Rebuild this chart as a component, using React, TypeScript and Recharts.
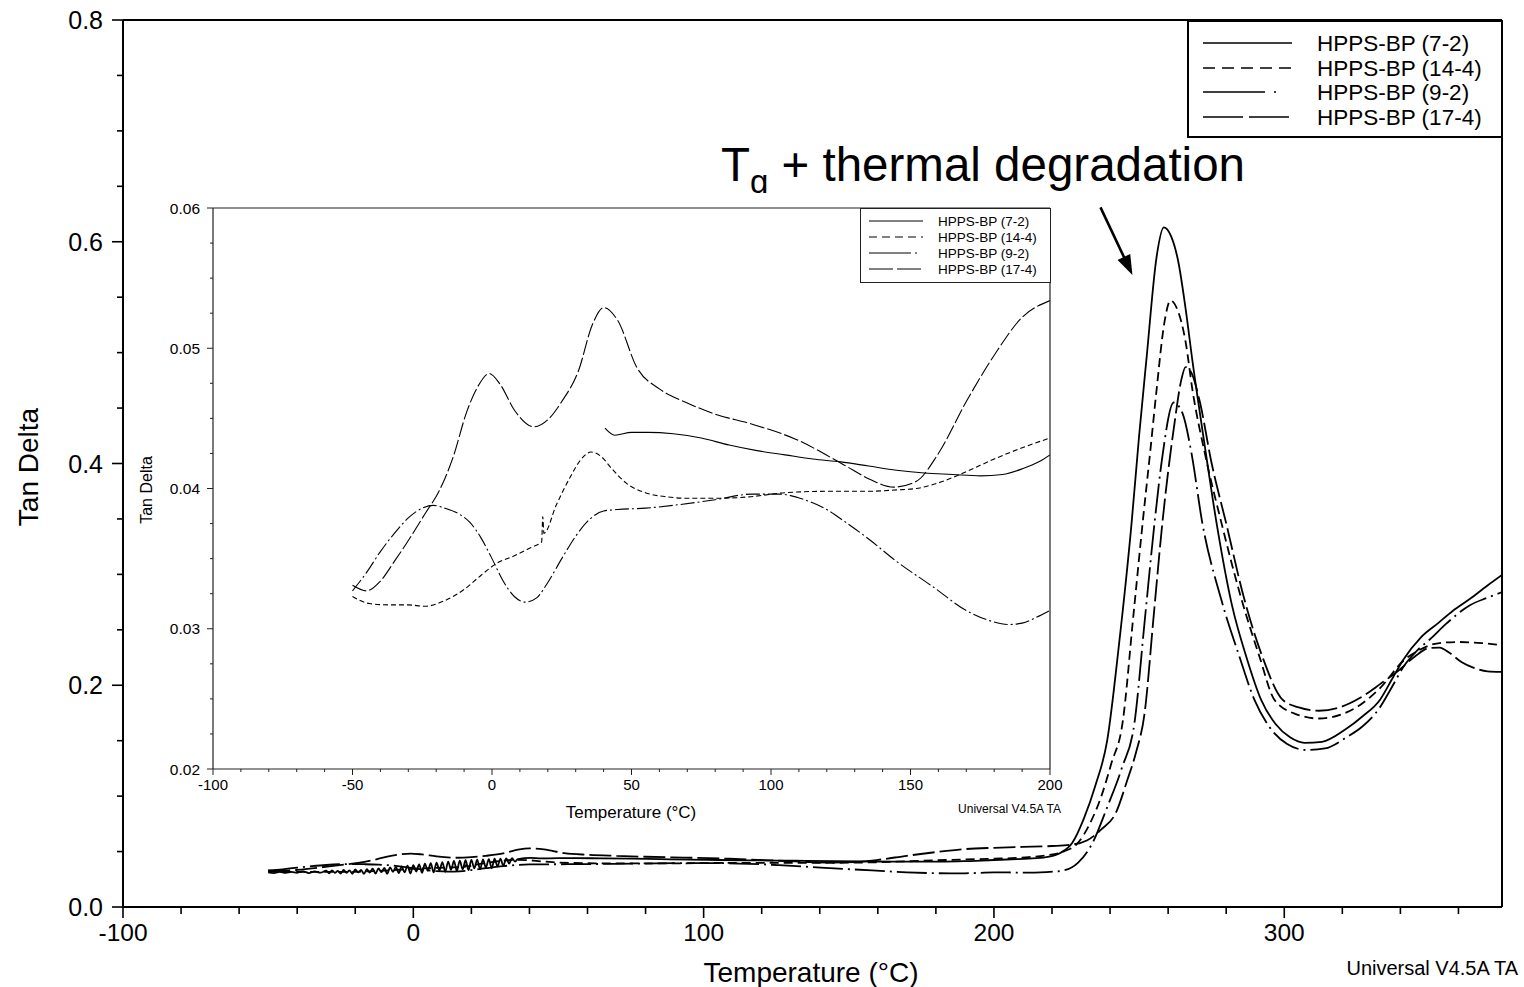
import React from 'react';
import { LineChart, Line, XAxis, YAxis, ReferenceLine } from 'recharts';

const FONT = '"Liberation Sans", Arial, Helvetica, sans-serif';

// ---------- series names ----------
const SERIES_NAMES = ['HPPS-BP (7-2)', 'HPPS-BP (14-4)', 'HPPS-BP (9-2)', 'HPPS-BP (17-4)'];

// ---------- tick labels / positions ----------
const MAIN_X_TICKS = [-100, -80, -60, -40, -20, 0, 20, 40, 60, 80, 100, 120, 140, 160, 180, 200, 220, 240, 260, 280, 300, 320, 340, 360];
const MAIN_Y_TICKS = [0, 0.05, 0.1, 0.15, 0.2, 0.25, 0.3, 0.35, 0.4, 0.45, 0.5, 0.55, 0.6, 0.65, 0.7, 0.75, 0.8];
const INSET_X_TICKS = [-100, -90, -80, -70, -60, -50, -40, -30, -20, -10, 0, 10, 20, 30, 40, 50, 60, 70, 80, 90, 100, 110, 120, 130, 140, 150, 160, 170, 180, 190, 200];
const INSET_Y_TICKS = [0.02, 0.0225, 0.025, 0.0275, 0.03, 0.0325, 0.035, 0.0375, 0.04, 0.0425, 0.045, 0.0475, 0.05, 0.0525, 0.055, 0.0575, 0.06];

// ---------- HPPS-BP (7-2) ----------
// noisy low-temperature section (only shown in the main plot)
const S72_LOW_T = [-50, -48, -46, -44, -42, -40, -38, -36, -34, -32, -30, -29, -28, -27, -26, -25, -24, -23, -22, -21, -20, -19, -18, -17, -16, -15, -14, -13, -12, -11, -10, -9, -8, -7, -6, -5, -4, -3, -2, -1, 0, 1, 2, 3, 4, 5, 6, 7, 8, 9, 10, 11, 12, 13, 14, 15, 16, 17, 18, 19, 20, 21, 22, 23, 24, 25, 26, 27, 28, 29, 30, 31, 32, 33, 34, 35, 36];
const S72_LOW_V = [0.0312, 0.0305, 0.0318, 0.0308, 0.0316, 0.0309, 0.0322, 0.0306, 0.0321, 0.031, 0.0327, 0.0304, 0.0331, 0.0308, 0.0326, 0.0302, 0.0335, 0.0309, 0.033, 0.03, 0.0338, 0.0312, 0.0334, 0.0298, 0.0342, 0.031, 0.0345, 0.0301, 0.0348, 0.0315, 0.0352, 0.03, 0.0358, 0.0318, 0.0362, 0.0305, 0.0366, 0.0312, 0.0372, 0.0302, 0.0378, 0.032, 0.0384, 0.0308, 0.039, 0.0325, 0.0395, 0.0312, 0.04, 0.033, 0.0405, 0.0318, 0.041, 0.0335, 0.0415, 0.0325, 0.0418, 0.034, 0.0422, 0.0332, 0.0425, 0.0348, 0.0428, 0.034, 0.043, 0.0355, 0.0432, 0.035, 0.0435, 0.0365, 0.0436, 0.0372, 0.0438, 0.0392, 0.044, 0.041, 0.0432];
const S72_T = [40.5, 44, 50, 56, 65, 75, 85, 95, 105, 115, 125, 135, 145, 155, 165, 175, 183, 190, 196, 200];
const S72_V = [0.0443, 0.0438, 0.044, 0.044, 0.0439, 0.0436, 0.0431, 0.0427, 0.0424, 0.0421, 0.0419, 0.0416, 0.0413, 0.0411, 0.041, 0.0409, 0.041, 0.0414, 0.0419, 0.0424];
const S72_HIGH_T = [206, 212, 218, 223, 227, 231, 235, 239, 243, 247.4, 250, 252.6, 256, 258.5, 261, 263.5, 266, 268.5, 272.5, 276.7, 282, 287, 292, 297, 302, 307, 313, 321, 327, 333, 337, 341, 347, 353, 358, 364, 370, 375];
const S72_HIGH_V = [0.043, 0.0436, 0.045, 0.049, 0.058, 0.08, 0.11, 0.15, 0.235, 0.346, 0.425, 0.496, 0.586, 0.613, 0.605, 0.582, 0.54, 0.49, 0.418, 0.346, 0.272, 0.225, 0.187, 0.165, 0.153, 0.148, 0.149, 0.16, 0.172, 0.187, 0.205, 0.223, 0.243, 0.256, 0.267, 0.278, 0.29, 0.2995];

// ---------- HPPS-BP (14-4) ----------
const S144_T = [-50, -44, -37, -30, -24, -17, -10, -4, 2, 8, 14, 17.8, 18.2, 18.6, 23, 28, 32, 35.5, 39, 43, 48, 55, 63, 70, 80, 92, 105, 120, 135, 145, 152, 160, 170, 180, 190, 200];
const S144_V = [0.0323, 0.0318, 0.0317, 0.0317, 0.0316, 0.032, 0.0328, 0.0338, 0.0347, 0.0352, 0.0358, 0.0362, 0.038, 0.0368, 0.0388, 0.0408, 0.0421, 0.0426, 0.0423, 0.0414, 0.0404, 0.0397, 0.0394, 0.0393, 0.0393, 0.0394, 0.0397, 0.0398, 0.0398, 0.0399, 0.04, 0.0404, 0.0412, 0.0421, 0.0429, 0.0436];
const S144_HIGH_T = [206, 212, 218, 224, 229, 233, 237, 240.5, 244.3, 248, 251.2, 254, 256, 258.7, 260.8, 263, 266, 268.4, 273, 278.4, 285, 291.5, 296.6, 304, 312, 320, 326, 333, 341.4, 346, 350, 355, 360, 368, 375];
const S144_HIGH_V = [0.044, 0.045, 0.0465, 0.05, 0.058, 0.075, 0.1, 0.13, 0.166, 0.262, 0.346, 0.415, 0.466, 0.527, 0.547, 0.54, 0.51, 0.466, 0.405, 0.346, 0.28, 0.2255, 0.187, 0.174, 0.17, 0.174, 0.182, 0.1975, 0.223, 0.231, 0.236, 0.2385, 0.239, 0.238, 0.236];

// ---------- HPPS-BP (9-2) ----------
const S92_T = [-50, -45, -40, -35, -30, -25, -21, -17, -12, -8, -4, 0, 4, 8, 12, 16, 20, 25, 30, 35, 40, 45, 55, 65, 80, 93, 103, 112, 120, 126, 135, 145, 158, 170, 178, 185, 190, 195, 200];
const S92_V = [0.0327, 0.034, 0.0355, 0.0368, 0.0379, 0.0386, 0.0388, 0.0386, 0.0382, 0.0376, 0.0365, 0.035, 0.0334, 0.0323, 0.0319, 0.0322, 0.0333, 0.035, 0.0366, 0.0378, 0.0384, 0.0385, 0.0386, 0.0388, 0.0392, 0.0396, 0.0396, 0.0392, 0.0385, 0.0377, 0.0364, 0.0348, 0.033, 0.0313, 0.0306, 0.0303, 0.0304, 0.0308, 0.0313];
const S92_HIGH_T = [210, 218, 224, 229, 234, 239, 244, 248.4, 252, 255.3, 258, 261.9, 265, 268, 271.8, 278, 284.6, 289.7, 295, 301, 307.6, 314, 321.4, 327, 332.8, 337, 341.4, 346, 350, 356, 363.8, 370, 375];
const S92_HIGH_V = [0.031, 0.0315, 0.033, 0.04, 0.058, 0.09, 0.125, 0.166, 0.26, 0.346, 0.406, 0.455, 0.445, 0.41, 0.346, 0.28, 0.2255, 0.187, 0.162, 0.147, 0.1416, 0.143, 0.153, 0.163, 0.1795, 0.198, 0.218, 0.232, 0.241, 0.256, 0.272, 0.279, 0.284];

// ---------- HPPS-BP (17-4) ----------
const S174_T = [-50, -45, -40, -35, -29, -24, -19, -14, -9, -5, -1, 3, 8, 15, 20, 25, 31, 36, 40, 45, 52, 60, 70, 80, 93, 109, 126, 136, 144, 152, 160, 170, 180, 190, 200];
const S174_V = [0.0331, 0.0327, 0.0334, 0.0348, 0.0366, 0.0382, 0.0398, 0.0422, 0.0455, 0.0473, 0.0482, 0.0474, 0.0456, 0.0444, 0.0449, 0.0462, 0.0484, 0.0517, 0.0529, 0.052, 0.0486, 0.0471, 0.0461, 0.0453, 0.0446, 0.0435, 0.0417, 0.0406, 0.0401, 0.0405, 0.0425, 0.0462, 0.0495, 0.0522, 0.0534];
const S174_HIGH_T = [210, 220, 226, 232, 237, 242, 246, 249, 251.9, 255, 258, 262.2, 264.5, 266, 268, 270.8, 275, 280, 286, 292.5, 299.4, 305, 312, 319, 326, 333, 339.7, 345, 350, 353.5, 357, 361, 365.5, 370, 375];
const S174_HIGH_V = [0.0542, 0.055, 0.056, 0.06, 0.07, 0.085, 0.115, 0.14, 0.175, 0.262, 0.346, 0.4365, 0.475, 0.487, 0.482, 0.457, 0.4, 0.346, 0.28, 0.2255, 0.187, 0.18, 0.177, 0.18, 0.1885, 0.201, 0.214, 0.226, 0.2336, 0.234, 0.229, 0.221, 0.2155, 0.2125, 0.212];

// ---------- build point lists ----------
type Pt = { t: number; v: number };
const zip = (ts: number[], vs: number[]): Pt[] => ts.map((t, i) => ({ t, v: vs[i] }));

const inset72 = zip(S72_T, S72_V);
const inset144 = zip(S144_T, S144_V);
const inset92 = zip(S92_T, S92_V);
const inset174 = zip(S174_T, S174_V);

const main72 = [...zip(S72_LOW_T, S72_LOW_V), ...inset72, ...zip(S72_HIGH_T, S72_HIGH_V)];
const main144 = [...inset144, ...zip(S144_HIGH_T, S144_HIGH_V)];
const main92 = [...inset92, ...zip(S92_HIGH_T, S92_HIGH_V)];
const main174 = [...inset174, ...zip(S174_HIGH_T, S174_HIGH_V)];

const MAIN_DATA = [main72, main144, main92, main174];
const INSET_DATA = [inset72, inset144, inset92, inset174];

// line styles (per series, same order as names)
const MAIN_DASH = ['0', '9 5', '30 5 2 5', '22 5'];
const INSET_DASH = ['0', '5 3', '14 3 2 3', '15 3'];
const MAIN_LEGEND_DASH = ['0', '12 7', '62 9 2 200', '40 6'];
const INSET_LEGEND_DASH = ['0', '8 5', '42 4 2 200', '24 4'];

// ---------- tick renderers ----------
function MainXTick(props: any) {
  const { x, y, payload } = props;
  const v = payload.value as number;
  const major = Math.abs(v % 100) < 1e-6;
  return (
    <g>
      <line x1={x} y1={y} x2={x} y2={y + (major ? 11 : 7)} stroke="#000" strokeWidth={1.6} />
      {major && (
        <text x={x} y={y + 34} textAnchor="middle" fontSize={24.5} fill="#000" fontFamily={FONT}>
          {v}
        </text>
      )}
    </g>
  );
}

function MainYTick(props: any) {
  const { x, y, payload } = props;
  const v = payload.value as number;
  const major = Math.abs(v / 0.2 - Math.round(v / 0.2)) < 1e-6;
  return (
    <g>
      <line x1={x - (major ? 11 : 6)} y1={y} x2={x} y2={y} stroke="#000" strokeWidth={1.6} />
      {major && (
        <text x={x - 20} y={y} dy="0.36em" textAnchor="end" fontSize={25} fill="#000" fontFamily={FONT}>
          {v.toFixed(1)}
        </text>
      )}
    </g>
  );
}

function InsetXTick(props: any) {
  const { x, y, payload } = props;
  const v = payload.value as number;
  const major = Math.abs(v % 50) < 1e-6;
  return (
    <g>
      <line x1={x} y1={y} x2={x} y2={y + (major ? 6 : 3)} stroke="#222" strokeWidth={1} />
      {major && (
        <text x={x} y={y + 21} textAnchor="middle" fontSize={15} fill="#000" fontFamily={FONT}>
          {v}
        </text>
      )}
    </g>
  );
}

function InsetYTick(props: any) {
  const { x, y, payload } = props;
  const v = payload.value as number;
  const major = Math.abs(v * 100 - Math.round(v * 100)) < 1e-6;
  return (
    <g>
      <line x1={x - (major ? 6 : 3)} y1={y} x2={x} y2={y} stroke="#222" strokeWidth={1} />
      {major && (
        <text x={x - 13} y={y} dy="0.36em" textAnchor="end" fontSize={15.5} fill="#000" fontFamily={FONT}>
          {v.toFixed(2)}
        </text>
      )}
    </g>
  );
}

function ArrowShape(props: any) {
  const { x1, y1, x2, y2 } = props;
  if ([x1, y1, x2, y2].some((n) => typeof n !== 'number' || isNaN(n))) return <g />;
  const dx = x2 - x1;
  const dy = y2 - y1;
  const len = Math.hypot(dx, dy) || 1;
  const ux = dx / len;
  const uy = dy / len;
  const hl = 20;
  const hw = 7;
  const bx = x2 - ux * hl;
  const by = y2 - uy * hl;
  const px = -uy;
  const py = ux;
  return (
    <g>
      <line x1={x1} y1={y1} x2={bx + ux * 2} y2={by + uy * 2} stroke="#000" strokeWidth={2.6} />
      <polygon points={`${x2},${y2} ${bx + px * hw},${by + py * hw} ${bx - px * hw},${by - py * hw}`} fill="#000" />
    </g>
  );
}

// ---------- legends ----------
function LegendBox(props: {
  left: number; top: number; width: number; height: number; rowY: number[];
  x1: number; x2: number; textX: number; fontSize: number; dashes: string[]; strokeWidth: number; border: string;
}) {
  const { left, top, width, height, rowY, x1, x2, textX, fontSize, dashes, strokeWidth, border } = props;
  return (
    <div
      style={{
        position: 'absolute', left, top, width, height, boxSizing: 'border-box',
        border, background: '#fff',
      }}
    >
      <svg width={width} height={height} style={{ position: 'absolute', left: -1, top: -1, overflow: 'visible' }}>
        {SERIES_NAMES.map((name, i) => (
          <g key={name}>
            <line x1={x1} x2={x2} y1={rowY[i]} y2={rowY[i]} stroke="#000" strokeWidth={strokeWidth}
              strokeDasharray={dashes[i] === '0' ? undefined : dashes[i]} />
            <text x={textX} y={rowY[i]} dy="0.36em" fontSize={fontSize} fontFamily={FONT} fill="#000">
              {name}
            </text>
          </g>
        ))}
      </svg>
    </div>
  );
}

// ---------- main chart ----------
function MainChart() {
  return (
    <LineChart width={1524} height={987} margin={{ top: 19, right: 21, bottom: 79, left: 122 }}>
      <XAxis
        dataKey="t" type="number" domain={[-100, 375]} allowDataOverflow ticks={MAIN_X_TICKS} interval={0}
        height={1} tickSize={0} tickMargin={0} tickLine={false} tick={<MainXTick />}
        axisLine={{ stroke: '#000', strokeWidth: 2 }}
        label={{
          content: () => (
            <text x={811} y={982} textAnchor="middle" fontSize={28} fontFamily={FONT} fill="#000">
              Temperature (°C)
            </text>
          ),
        }}
      />
      <YAxis
        dataKey="v" type="number" domain={[0, 0.8]} allowDataOverflow ticks={MAIN_Y_TICKS} interval={0}
        width={1} tickSize={0} tickMargin={0} tickLine={false} tick={<MainYTick />}
        axisLine={{ stroke: '#000', strokeWidth: 2 }}
        label={{
          content: () => (
            <text x={28} y={467} transform="rotate(-90 28 467)" textAnchor="middle" dy="0.36em" fontSize={28}
              fontFamily={FONT} fill="#000">
              Tan Delta
            </text>
          ),
        }}
      />
      <XAxis xAxisId="top" orientation="top" type="number" domain={[-100, 375]} height={1} tick={false}
        tickLine={false} axisLine={{ stroke: '#000', strokeWidth: 2 }} />
      <YAxis yAxisId="right" orientation="right" type="number" domain={[0, 0.8]} width={1} tick={false}
        tickLine={false} axisLine={{ stroke: '#000', strokeWidth: 2 }} />
      {MAIN_DATA.map((d, i) => (
        <Line
          key={SERIES_NAMES[i]} name={SERIES_NAMES[i]} data={d} dataKey="v" type="monotone" dot={false}
          activeDot={false} stroke="#000" strokeWidth={1.8}
          strokeDasharray={MAIN_DASH[i] === '0' ? undefined : MAIN_DASH[i]}
          isAnimationActive={false}
        />
      ))}
      <ReferenceLine
        segment={[{ x: 236.7, y: 0.631 }, { x: 247.7, y: 0.57 }]}
        ifOverflow="visible"
        shape={ArrowShape}
      />
    </LineChart>
  );
}

// ---------- inset chart ----------
function InsetChart() {
  return (
    <LineChart width={930} height={635} margin={{ top: 14, right: 14, bottom: 58, left: 77 }}>
      <XAxis
        dataKey="t" type="number" domain={[-100, 200]} allowDataOverflow ticks={INSET_X_TICKS} interval={0}
        height={1} tickSize={0} tickMargin={0} tickLine={false} tick={<InsetXTick />}
        axisLine={{ stroke: '#222', strokeWidth: 1.2 }}
        label={{
          content: () => (
            <text x={631 - 135} y={812 - 193} dy="0.36em" textAnchor="middle" fontSize={17} fontFamily={FONT} fill="#000">
              Temperature (°C)
            </text>
          ),
        }}
      />
      <YAxis
        dataKey="v" type="number" domain={[0.02, 0.06]} allowDataOverflow ticks={INSET_Y_TICKS} interval={0}
        width={1} tickSize={0} tickMargin={0} tickLine={false} tick={<InsetYTick />}
        axisLine={{ stroke: '#222', strokeWidth: 1.2 }}
        label={{
          content: () => (
            <text x={146 - 135} y={490 - 193} transform={`rotate(-90 ${146 - 135} ${490 - 193})`} dy="0.36em"
              textAnchor="middle" fontSize={16} fontFamily={FONT} fill="#000">
              Tan Delta
            </text>
          ),
        }}
      />
      <XAxis xAxisId="top" orientation="top" type="number" domain={[-100, 200]} height={1} tick={false}
        tickLine={false} axisLine={{ stroke: '#222', strokeWidth: 1.2 }} />
      <YAxis yAxisId="right" orientation="right" type="number" domain={[0.02, 0.06]} width={1} tick={false}
        tickLine={false} axisLine={{ stroke: '#222', strokeWidth: 1.2 }} />
      {INSET_DATA.map((d, i) => (
        <Line
          key={SERIES_NAMES[i]} name={SERIES_NAMES[i]} data={d} dataKey="v" type="monotone" dot={false}
          activeDot={false} stroke="#000" strokeWidth={1.1}
          strokeDasharray={INSET_DASH[i] === '0' ? undefined : INSET_DASH[i]}
          isAnimationActive={false}
        />
      ))}
    </LineChart>
  );
}

export default function App() {
  return (
    <div style={{ position: 'absolute', left: 0, top: 0, width: 1524, height: 987, background: '#fff', overflow: 'hidden', fontFamily: FONT }}>
      <div style={{ position: 'absolute', left: 0, top: 0 }}>
        <MainChart />
      </div>

      <div style={{ position: 'absolute', right: 6, top: 957, fontSize: 20, color: '#000', fontFamily: FONT, whiteSpace: 'nowrap' }}>
        Universal V4.5A TA
      </div>

      <svg width={1524} height={260} style={{ position: 'absolute', left: 0, top: 0, pointerEvents: 'none' }}>
        <text x={721} y={181} fontSize={47.5} fontFamily={FONT} fill="#000">
          T
          <tspan dy={12} fontSize={33}>g</tspan>
          <tspan dy={-12} fontSize={47.5}> + thermal degradation</tspan>
        </text>
      </svg>

      <LegendBox
        left={1187} top={20} width={316} height={118} rowY={[22, 47, 71, 96]}
        x1={15} x2={104} textX={129} fontSize={22.5} dashes={MAIN_LEGEND_DASH} strokeWidth={1.6}
        border="2px solid #000"
      />

      <div style={{ position: 'absolute', left: 135, top: 193, width: 930, height: 635, background: '#fff' }}>
        <InsetChart />
        <div style={{ position: 'absolute', right: 4, top: 609, fontSize: 12, color: '#000', fontFamily: FONT, whiteSpace: 'nowrap' }}>
          Universal V4.5A TA
        </div>
      </div>

      <LegendBox
        left={860} top={208} width={191} height={75} rowY={[13, 29, 45, 61]}
        x1={9} x2={63} textX={78} fontSize={13.5} dashes={INSET_LEGEND_DASH} strokeWidth={1}
        border="1px solid #222"
      />
    </div>
  );
}
